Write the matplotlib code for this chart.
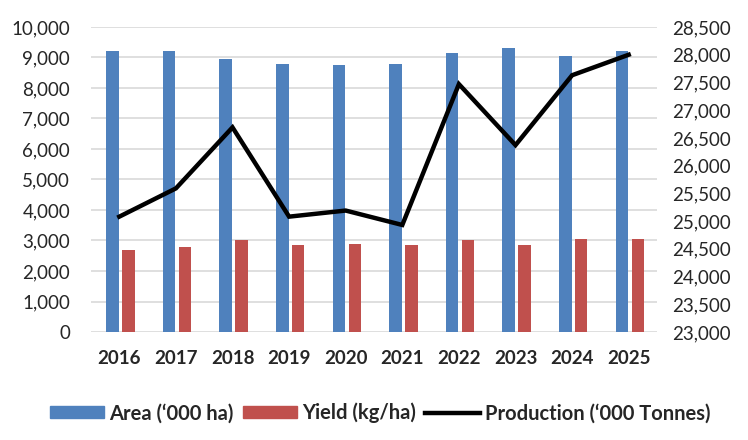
import matplotlib
matplotlib.use("Agg")
import matplotlib.pyplot as plt
import numpy as np
from matplotlib.ticker import FuncFormatter, MultipleLocator
from matplotlib.patches import Patch
from matplotlib.lines import Line2D

years = ["2016", "2017", "2018", "2019", "2020", "2021", "2022", "2023", "2024", "2025"]
area = [9200, 9200, 8950, 8800, 8750, 8800, 9150, 9300, 9050, 9200]
yield_kg = [2700, 2800, 3000, 2850, 2900, 2850, 3000, 2850, 3040, 3040]
production = [25080, 25590, 26690, 25080, 25190, 24930, 27470, 26370, 27630, 28000]

plt.rcParams['font.family'] = ['Lato', 'DejaVu Sans']
BLUE = "#4f81bd"
RED = "#c0504d"
GRID = "#d9d9d9"
TXT = "#262626"

fig = plt.figure(figsize=(7.48, 4.40), dpi=100)
ax = fig.add_axes([91/748, 1-332/440, (657-91)/748, (332-27)/440])
ax2 = ax.twinx()

x = np.arange(len(years))
w = 0.22
ax.bar(x - 0.12, area, width=w, color=BLUE, zorder=2)
ax.bar(x + 0.16, yield_kg, width=w, color=RED, zorder=2)
ax2.plot(x, production, color="black", lw=3.2, zorder=3, solid_joinstyle='miter')

ax.set_xlim(-0.5, len(years) - 0.5)
ax.set_ylim(0, 10000)
ax.yaxis.set_major_locator(MultipleLocator(1000))
ax2.set_ylim(23000, 28500)
ax2.yaxis.set_major_locator(MultipleLocator(500))
fmt = FuncFormatter(lambda v, p: f"{int(round(v)):,}")
ax.yaxis.set_major_formatter(fmt)
ax2.yaxis.set_major_formatter(fmt)

ax.grid(axis='y', color=GRID, lw=1.2, zorder=0)
ax.set_axisbelow(True)
for a in (ax, ax2):
    for s in a.spines.values():
        s.set_visible(False)
ax.set_xticks(x)
ax.set_xticklabels(years, fontweight='bold', fontsize=13.5, color=TXT)
ax.tick_params(axis='x', length=0, pad=13)
ax.tick_params(axis='y', length=0, pad=15, labelsize=13.5, labelcolor=TXT)
ax2.tick_params(axis='y', length=0, pad=11, labelsize=13.5, labelcolor=TXT)

handles = [Patch(color=BLUE), Patch(color=RED), Line2D([0], [0], color='black', lw=3.2)]
labels = ["Area (\u2018000 ha)", "Yield (kg/ha)", "Production (\u2018000 Tonnes)"]
fig.legend(handles, labels, loc='center', bbox_to_anchor=(380/748, 1-413/440),
           ncol=3, frameon=False, prop={'weight': 'bold', 'size': 14.5},
           handlelength=2.7, handleheight=0.55, handletextpad=0.25, columnspacing=0.45,
           labelcolor=TXT)

fig.savefig("out.png", dpi=100)
